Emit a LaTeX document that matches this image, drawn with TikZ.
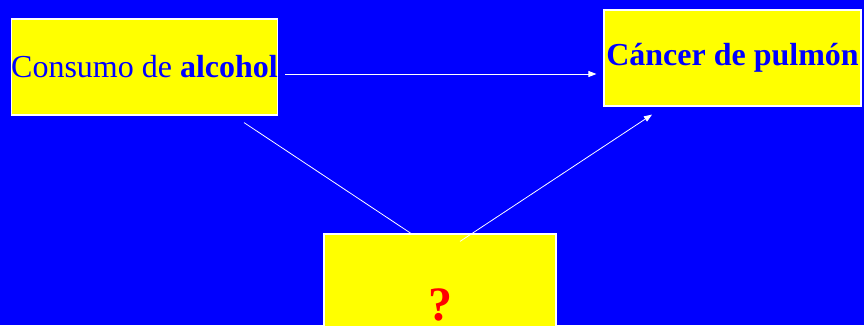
\documentclass[tikz,border=0pt]{standalone}
\usepackage{fontspec}
\setmainfont{Liberation Serif}
\usetikzlibrary{calc,arrows.meta}
\definecolor{fondo}{RGB}{0,0,255}
\definecolor{caja}{RGB}{255,255,0}
\begin{document}
\begin{tikzpicture}[x=1pt,y=-1pt,
  box/.style={draw=white,line width=1.2pt,fill=caja,inner sep=0pt,text=fondo,font=\fontsize{32}{36}\selectfont},
  link/.style={draw=white,line width=0.8pt}]
\path[use as bounding box] (0,0) rectangle (864,325);
\fill[fondo] (0,0) rectangle (864,325);
\clip (0,0) rectangle (864,325);

\node[box,minimum width=265pt,minimum height=96pt] (alcohol) at (144.5,67) {Consumo de \textbf{alcohol}};
\node[box,minimum width=257pt,minimum height=96pt,font=\fontsize{32}{36}\selectfont\bfseries] (cancer) at (732.5,58) {Cáncer de pulmón};
\node[box,minimum width=232pt,minimum height=94pt,text height=78pt,text depth=0pt,text=red,font=\fontsize{48}{52}\selectfont\bfseries] (factor) at (440,281) {?};

\path[link,-{Triangle[length=8pt,width=6pt]}] ($(alcohol.east)+(7,7)$) -- ($(cancer.west)+(-7,16)$);
\path[link] ($(alcohol.south)+(99.5,7)$) -- ($(factor.north)+(-29,0)$);
\path[link,-{Triangle[length=8pt,width=6pt]}] ($(factor.north)+(20,8)$) -- ($(cancer.south)+(-80.5,8)$);
\end{tikzpicture}
\end{document}
